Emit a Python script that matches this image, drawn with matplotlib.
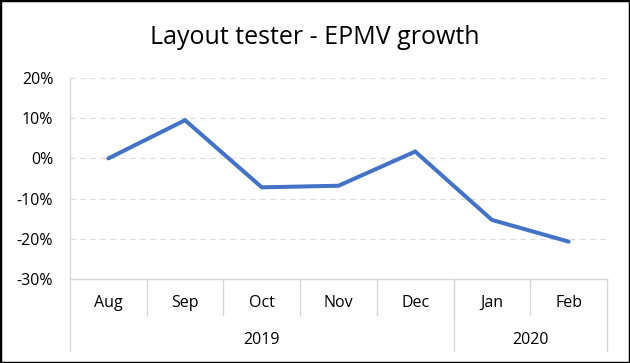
import numpy as np
import matplotlib
matplotlib.use("Agg")
import matplotlib.pyplot as plt
from matplotlib.patches import Rectangle

months = ['Aug', 'Sep', 'Oct', 'Nov', 'Dec', 'Jan', 'Feb']
years = ['2019', '2020']
year_span = [5, 2]          # number of months under each year
growth = [0.0, 9.5, -7.2, -6.8, 1.7, -15.3, -20.7]   # EPMV growth, %
yticks = [-30, -20, -10, 0, 10, 20]

plt.rcParams['font.family'] = ['Open Sans', 'DejaVu Sans']

fig = plt.figure(figsize=(6.3, 3.63), dpi=100)
ax = fig.add_axes([70/630, 1 - 279/363, 537/630, 201/363])

x = np.arange(len(months))
ax.plot(x, growth, color='#4472C4', linewidth=2.9, solid_capstyle='round',
        solid_joinstyle='miter', zorder=3)

ax.set_xlim(-0.5, len(months) - 0.5)
ax.set_ylim(yticks[0], yticks[-1])
ax.set_yticks(yticks)
ax.set_yticklabels([f'{v}%' for v in yticks], fontsize=11.5)
ax.set_xticks([])
ax.tick_params(axis='y', length=0, pad=12)
for v in yticks[1:]:
    ax.axhline(v, color='#D9D9D9', linewidth=0.9, linestyle=(0, (4, 4)), zorder=1)
for s in ax.spines.values():
    s.set_visible(False)

# category axis drawn by hand (multi-level, Excel style)
grey = '#D9D9D9'
tr = ax.get_xaxis_transform()
ax.plot([-0.5, len(months) - 0.5], [0, 0], color=grey, lw=1.0,
        transform=tr, clip_on=False)
ax.plot([-0.5, -0.5], [1, -0.358], color=grey, lw=1.0, transform=tr, clip_on=False)
for i, m in enumerate(months):
    ax.text(i, -0.119, m, transform=tr, ha='center', va='center', fontsize=11.5)
    if 0 < i:
        ax.plot([i - 0.5, i - 0.5], [0, -0.179], color=grey, lw=1.0,
                transform=tr, clip_on=False)
start = 0
for yr, n in zip(years, year_span):
    end = start + n
    ax.text((start + end - 1) / 2, -0.303, yr, transform=tr, ha='center',
            va='center', fontsize=11.5)
    ax.plot([end - 0.5, end - 0.5], [0, -0.358], color=grey, lw=1.0,
            transform=tr, clip_on=False)
    start = end

fig.text(0.5, 1 - 37/363, 'Layout tester - EPMV growth', ha='center',
         va='center', fontsize=18)
fig.patches.append(Rectangle((0, 0), 1, 1, transform=fig.transFigure,
                             fill=False, edgecolor='black', linewidth=2.5))

fig.savefig('out.png', dpi=100)
